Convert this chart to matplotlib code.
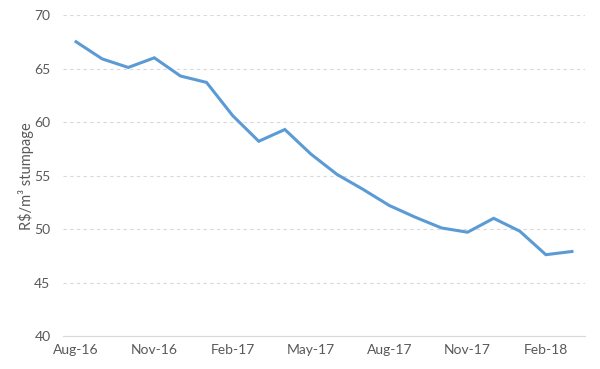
import matplotlib
matplotlib.use("Agg")
import matplotlib.pyplot as plt

# monthly stumpage price, Aug-16 .. Mar-18
months = ["Aug-16", "Sep-16", "Oct-16", "Nov-16", "Dec-16", "Jan-17", "Feb-17",
          "Mar-17", "Apr-17", "May-17", "Jun-17", "Jul-17", "Aug-17", "Sep-17",
          "Oct-17", "Nov-17", "Dec-17", "Jan-18", "Feb-18", "Mar-18"]
price = [67.5, 65.9, 65.1, 66.0, 64.3, 63.7, 60.6, 58.2, 59.3, 57.0,
         55.1, 53.7, 52.2, 51.1, 50.1, 49.7, 51.0, 49.8, 47.6, 47.9]
y_ticks = [40, 45, 50, 55, 60, 65, 70]

TEXT_GREY = "#595959"

plt.rcParams["font.family"] = ["Lato", "DejaVu Sans"]

fig = plt.figure(figsize=(6.0, 3.69), dpi=100)
ax = fig.add_axes([0.105, 0.0894, 0.87, 0.8699])

x = list(range(len(months)))
ax.plot(x, price, color="#5B9BD5", linewidth=2.2, solid_joinstyle="miter")

ax.set_xlim(-0.5, len(months) - 0.5)
ax.set_ylim(40, 70)
ax.set_yticks(y_ticks)
ax.set_xticks(x[::3])
ax.set_xticklabels(months[::3])

for yv in y_ticks[1:]:
    ax.axhline(yv, color="#D9D9D9", linewidth=0.8, linestyle=(0, (3, 3)), zorder=0)

for side in ["top", "right", "left"]:
    ax.spines[side].set_visible(False)
ax.spines["bottom"].set_color("#D9D9D9")
ax.spines["bottom"].set_linewidth(0.9)

ax.tick_params(axis="both", length=0, labelsize=10, colors=TEXT_GREY)
ax.tick_params(axis="y", pad=9)
ax.tick_params(axis="x", pad=6)

# y label placed by hand so it sits close to the tick labels like the original
fig.text(26 / 600, 0.523, "R\\$/m³ stumpage", rotation=90, ha="center", va="center",
         fontsize=10.5, color=TEXT_GREY)

fig.savefig("out.png", dpi=100)
